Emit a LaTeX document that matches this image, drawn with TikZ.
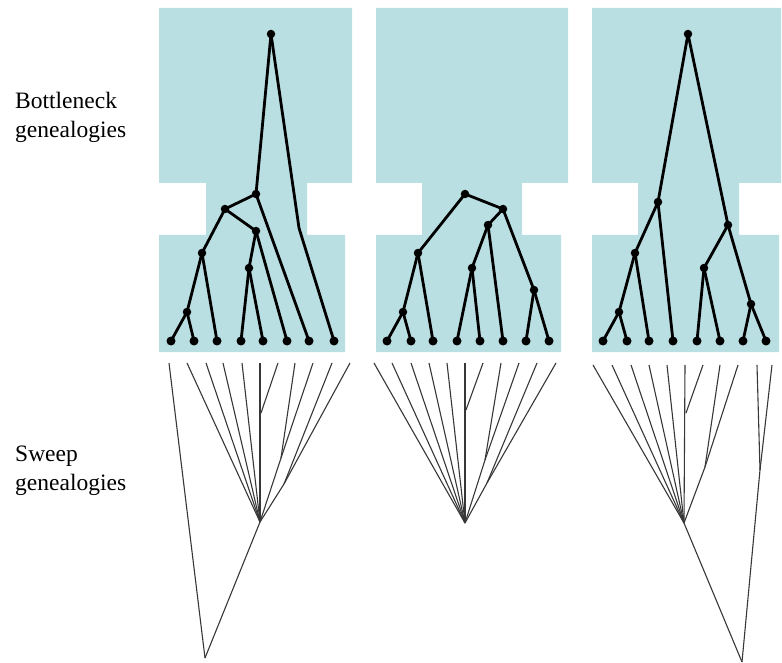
\documentclass[tikz,border=0pt]{standalone}
\usepackage{fontspec}
\setmainfont{Liberation Serif}
\definecolor{bneck}{RGB}{186,223,227}
\definecolor{sweepcol}{RGB}{55,55,55}
\begin{document}
\begin{tikzpicture}[x=1pt,y=-1pt,
  dotnode/.style={circle,fill=black,inner sep=0pt,minimum size=9pt},
  inner/.style={circle,fill=black,inner sep=0pt,minimum size=8.5pt},
  bedge/.style={line width=2.8pt,black,line join=round,line cap=round},
  sedge/.style={line width=1.1pt,sweepcol},
  shapefill/.style={fill=bneck,draw=none},
  lbl/.style={align=left,anchor=north west,inner sep=0pt,font=\fontsize{23.5}{29}\selectfont}]
\useasboundingbox (0,0) rectangle (782,663);

% ---------- bottleneck shapes ----------
\fill[shapefill] (159,8) -- (352,8) -- (352,183) -- (307,183) -- (307,235) -- (345,235) -- (345,352) -- (159,352) -- (159,235) -- (206,235) -- (206,183) -- (159,183) -- cycle;
\fill[shapefill] (376,8) -- (568,8) -- (568,183) -- (522,183) -- (522,235) -- (561,235) -- (561,352) -- (376,352) -- (376,235) -- (422,235) -- (422,183) -- (376,183) -- cycle;
\fill[shapefill] (592,8) -- (781,8) -- (781,183) -- (739,183) -- (739,235) -- (779,235) -- (779,352) -- (592,352) -- (592,235) -- (638,235) -- (638,183) -- (592,183) -- cycle;

% ---------- labels ----------
\node[lbl] (lb) at (15,92) {Bottleneck\\genealogies};
\node[lbl] (ls) at (15,446) {Sweep\\genealogies};

% ---------- panel 1 bottleneck tree ----------
\node[inner] (pAr) at (271,34) {};
\node[inner] (pAa) at (256,194) {};
\node[inner] (pAb) at (225,209) {};
\node[inner] (pAc) at (256,231) {};
\node[inner] (pAd) at (202,253) {};
\node[inner] (pAe) at (249,268) {};
\node[inner] (pAf) at (187,312) {};
\coordinate (pAk) at (299,228);
\foreach \i/\x in {1/171,2/194,3/217,4/241,5/263,6/287,7/309,8/334}
  \node[dotnode] (pAl\i) at (\x,341) {};
\draw[bedge] (pAr.center) -- (pAa.center);
\draw[bedge] (pAr.center) -- (pAk) -- (pAl8.center);
\draw[bedge] (pAa.center) -- (pAb.center);
\draw[bedge] (pAa.center) -- (pAl7.center);
\draw[bedge] (pAb.center) -- (pAd.center);
\draw[bedge] (pAb.center) -- (pAc.center);
\draw[bedge] (pAc.center) -- (pAe.center);
\draw[bedge] (pAc.center) -- (pAl6.center);
\draw[bedge] (pAe.center) -- (pAl4.center);
\draw[bedge] (pAe.center) -- (pAl5.center);
\draw[bedge] (pAd.center) -- (pAf.center);
\draw[bedge] (pAd.center) -- (pAl3.center);
\draw[bedge] (pAf.center) -- (pAl1.center);
\draw[bedge] (pAf.center) -- (pAl2.center);

% ---------- panel 2 bottleneck tree ----------
\node[inner] (pBr) at (465,194) {};
\node[inner] (pBg) at (503,209) {};
\node[inner] (pBh) at (488,225) {};
\node[inner] (pBd) at (418,253) {};
\node[inner] (pBf) at (403,312) {};
\node[inner] (pBe) at (472,268) {};
\node[inner] (pBk) at (534,290) {};
\foreach \i/\x in {1/387,2/411,3/433,4/457,5/480,6/503,7/526,8/549}
  \node[dotnode] (pBl\i) at (\x,341) {};
\draw[bedge] (pBr.center) -- (pBd.center);
\draw[bedge] (pBr.center) -- (pBg.center);
\draw[bedge] (pBd.center) -- (pBf.center);
\draw[bedge] (pBd.center) -- (pBl3.center);
\draw[bedge] (pBf.center) -- (pBl1.center);
\draw[bedge] (pBf.center) -- (pBl2.center);
\draw[bedge] (pBg.center) -- (pBh.center);
\draw[bedge] (pBg.center) -- (pBk.center);
\draw[bedge] (pBh.center) -- (pBe.center);
\draw[bedge] (pBh.center) -- (pBl6.center);
\draw[bedge] (pBe.center) -- (pBl4.center);
\draw[bedge] (pBe.center) -- (pBl5.center);
\draw[bedge] (pBk.center) -- (pBl7.center);
\draw[bedge] (pBk.center) -- (pBl8.center);

% ---------- panel 3 bottleneck tree ----------
\node[inner] (pCr) at (688,34) {};
\node[inner] (pCa) at (658,202) {};
\node[inner] (pCb) at (728,225) {};
\node[inner] (pCd) at (635,253) {};
\node[inner] (pCf) at (619,312) {};
\node[inner] (pCe) at (704,268) {};
\node[inner] (pCk) at (751,304) {};
\foreach \i/\x in {1/603,2/627,3/649,4/673,5/697,6/720,7/743,8/766}
  \node[dotnode] (pCl\i) at (\x,341) {};
\draw[bedge] (pCr.center) -- (pCa.center);
\draw[bedge] (pCr.center) -- (pCb.center);
\draw[bedge] (pCa.center) -- (pCd.center);
\draw[bedge] (pCa.center) -- (pCl4.center);
\draw[bedge] (pCd.center) -- (pCf.center);
\draw[bedge] (pCd.center) -- (pCl3.center);
\draw[bedge] (pCf.center) -- (pCl1.center);
\draw[bedge] (pCf.center) -- (pCl2.center);
\draw[bedge] (pCb.center) -- (pCe.center);
\draw[bedge] (pCb.center) -- (pCk.center);
\draw[bedge] (pCe.center) -- (pCl5.center);
\draw[bedge] (pCe.center) -- (pCl6.center);
\draw[bedge] (pCk.center) -- (pCl7.center);
\draw[bedge] (pCk.center) -- (pCl8.center);

% ---------- panel 1 sweep ----------
\foreach \i/\x in {1/169,2/187,3/206,4/223,5/242,6/260,7/278,8/295,9/313,10/332,11/350}
  \coordinate (sAt\i) at (\x,363);
\coordinate (sAj) at (260,522);
\coordinate (sAb) at (261,413);
\coordinate (sAm1) at (281,458);
\coordinate (sAm2) at (284,484);
\coordinate (sAa) at (205,658);
\draw[sedge] (sAt1) -- (sAa);
\draw[sedge] (sAj) -- (sAa);
\foreach \i in {2,3,4,5,6} \draw[sedge] (sAt\i) -- (sAj);
\draw[sedge] (sAt7) -- (sAb);
\draw[sedge] (sAt8) -- (sAm1);
\draw[sedge] (sAt9) -- (sAm1) -- (sAj);
\draw[sedge] (sAt10) -- (sAm2);
\draw[sedge] (sAt11) -- (sAm2) -- (sAj);

% ---------- panel 2 sweep ----------
\foreach \i/\x in {1/374,2/392,3/411,4/429,5/447,6/465,7/483,8/501,9/519,10/537,11/556}
  \coordinate (sBt\i) at (\x,363);
\coordinate (sBj) at (465,523);
\coordinate (sBb) at (466,410);
\coordinate (sBm1) at (485,460);
\coordinate (sBm2) at (487,483);
\foreach \i in {1,2,3,4,5,6} \draw[sedge] (sBt\i) -- (sBj);
\draw[sedge] (sBt7) -- (sBb);
\draw[sedge] (sBt8) -- (sBm1);
\draw[sedge] (sBt9) -- (sBm1) -- (sBj);
\draw[sedge] (sBt10) -- (sBm2);
\draw[sedge] (sBt11) -- (sBm2) -- (sBj);

% ---------- panel 3 sweep ----------
\foreach \i/\x in {1/593,2/612,3/631,4/649,5/667,6/685,7/703,8/720,9/738,10/757,11/772}
  \coordinate (sCt\i) at (\x,365);
\coordinate (sCj) at (684,523);
\coordinate (sCb) at (686,413);
\coordinate (sCm1) at (705,467);
\coordinate (sCm2) at (760,470);
\coordinate (sCa) at (742,662);
\foreach \i in {1,2,3,4,5,6} \draw[sedge] (sCt\i) -- (sCj);
\draw[sedge] (sCt7) -- (sCb);
\draw[sedge] (sCt8) -- (sCm1);
\draw[sedge] (sCt9) -- (sCm1) -- (sCj);
\draw[sedge] (sCt10) -- (sCm2);
\draw[sedge] (sCt11) -- (sCm2) -- (sCa);
\draw[sedge] (sCj) -- (sCa);
\end{tikzpicture}
\end{document}
